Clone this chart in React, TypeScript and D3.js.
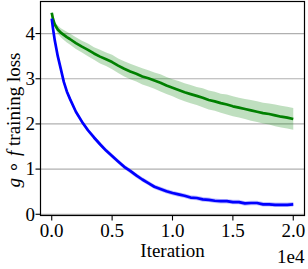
import React from "react";
import * as d3 from "d3";

const iterations = [0, 100, 250, 500, 750, 1000, 1250, 1500, 2000, 2500, 3000, 3500, 4000, 4500, 5000, 5500, 6000, 6500, 7000, 7500, 8000, 8500, 9000, 9500, 10000, 10500, 11000, 11500, 12000, 12500, 13000, 13500, 14000, 14500, 15000, 15500, 16000, 16500, 17000, 17500, 18000, 18500, 19000, 19500, 20000];

const blueLoss = [4.33, 4.12, 3.85, 3.5, 3.22, 2.93, 2.72, 2.56, 2.27, 2.05, 1.86, 1.7, 1.55, 1.41, 1.29, 1.17, 1.05, 0.96, 0.86, 0.77, 0.69, 0.61, 0.56, 0.51, 0.47, 0.44, 0.41, 0.37, 0.36, 0.33, 0.32, 0.3, 0.29, 0.29, 0.27, 0.27, 0.24, 0.25, 0.25, 0.22, 0.22, 0.21, 0.21, 0.21, 0.22];
const blueSpread = [0.01, 0.02, 0.03, 0.04, 0.04, 0.05, 0.05, 0.05, 0.05, 0.05, 0.05, 0.05, 0.05, 0.05, 0.05, 0.05, 0.05, 0.05, 0.05, 0.05, 0.05, 0.05, 0.05, 0.05, 0.05, 0.05, 0.05, 0.05, 0.05, 0.05, 0.05, 0.05, 0.05, 0.05, 0.05, 0.05, 0.05, 0.05, 0.05, 0.05, 0.05, 0.05, 0.05, 0.05, 0.05];

const greenLoss = [4.46, 4.33, 4.2, 4.09, 4.02, 3.97, 3.92, 3.88, 3.79, 3.71, 3.64, 3.56, 3.49, 3.43, 3.37, 3.29, 3.22, 3.16, 3.11, 3.05, 3.01, 2.96, 2.91, 2.85, 2.8, 2.75, 2.7, 2.66, 2.62, 2.58, 2.53, 2.5, 2.46, 2.43, 2.39, 2.36, 2.33, 2.3, 2.27, 2.24, 2.22, 2.19, 2.16, 2.14, 2.11];
const greenSpread = [0.01, 0.03, 0.06, 0.09, 0.1, 0.11, 0.12, 0.12, 0.13, 0.13, 0.14, 0.14, 0.15, 0.15, 0.16, 0.16, 0.17, 0.17, 0.17, 0.18, 0.18, 0.18, 0.19, 0.19, 0.19, 0.2, 0.2, 0.2, 0.2, 0.21, 0.21, 0.21, 0.21, 0.22, 0.22, 0.22, 0.22, 0.23, 0.23, 0.23, 0.23, 0.24, 0.24, 0.24, 0.24];

const xTicks = [0, 5000, 10000, 15000, 20000];
const xTickLabels = ["0.0", "0.5", "1.0", "1.5", "2.0"];
const yTicks = [0, 1, 2, 3, 4];

const W = 308;
const H = 269;
const left = 40.5;
const right = 304.5;
const top = 1.5;
const bottom = 215.5;
const TXT: React.CSSProperties = {
  fontFamily: "Liberation Serif, Times New Roman, serif",
  fontSize: "19px",
};

export default function App() {
  const x = d3.scaleLinear().domain([-930, 20930]).range([left, right]);
  const y = d3.scaleLinear().domain([-0.027, 4.71]).range([bottom, top]);

  const idx = iterations.map((_, i) => i);
  const line = (vals: number[]) =>
    d3
      .line<number>()
      .x((i) => x(iterations[i]))
      .y((i) => y(vals[i]))(idx) || "";
  const band = (vals: number[], sp: number[]) =>
    d3
      .area<number>()
      .x((i) => x(iterations[i]))
      .y0((i) => y(vals[i] - sp[i]))
      .y1((i) => y(vals[i] + sp[i]))(idx) || "";

  return (
    <svg
      width={W}
      height={H}
      style={{ position: "absolute", left: 0, top: 0, background: "#fff" }}
    >
      {yTicks.map((t) => (
        <line key={"g" + t} x1={left} x2={right} y1={y(t)} y2={y(t)} stroke="#b0b0b0" strokeWidth={1.2} />
      ))}
      <path d={band(greenLoss, greenSpread)} fill="#008000" fillOpacity={0.25} />
      <path d={band(blueLoss, blueSpread)} fill="#0000ff" fillOpacity={0.25} />
      <path d={line(greenLoss)} fill="none" stroke="#008000" strokeWidth={2.7} strokeLinejoin="round" />
      <path d={line(blueLoss)} fill="none" stroke="#0000ff" strokeWidth={2.7} strokeLinejoin="round" />
      <rect x={left} y={top} width={right - left} height={bottom - top} fill="none" stroke="#000" strokeWidth={1.2} />
      {xTicks.map((t, i) => (
        <g key={"x" + t}>
          <line x1={x(t)} x2={x(t)} y1={bottom} y2={bottom + 5} stroke="#000" strokeWidth={1.1} />
          <text x={x(t)} y={236.8} style={TXT} textAnchor="middle" fill="#000">
            {xTickLabels[i]}
          </text>
        </g>
      ))}
      {yTicks.map((t) => (
        <g key={"y" + t}>
          <line x1={left - 5} x2={left} y1={y(t)} y2={y(t)} stroke="#000" strokeWidth={1.1} />
          <text x={left - 5.5} y={y(t) + 6.3} style={TXT} textAnchor="end" fill="#000">
            {t}
          </text>
        </g>
      ))}
      <text x={(left + right) / 2} y={256.5} style={TXT} textAnchor="middle" fill="#000">
        Iteration
      </text>
      <text x={right} y={263} style={TXT} textAnchor="end" fill="#000">
        1e4
      </text>
      <text
        transform={`translate(20, 120) rotate(-90)`}
        style={TXT}
        textAnchor="middle"
        fill="#000"
      >
        <tspan fontStyle="italic">g</tspan>
        <tspan dx={5}>∘</tspan>
        <tspan dx={5} fontStyle="italic">f</tspan>
        <tspan> training loss</tspan>
      </text>
    </svg>
  );
}
